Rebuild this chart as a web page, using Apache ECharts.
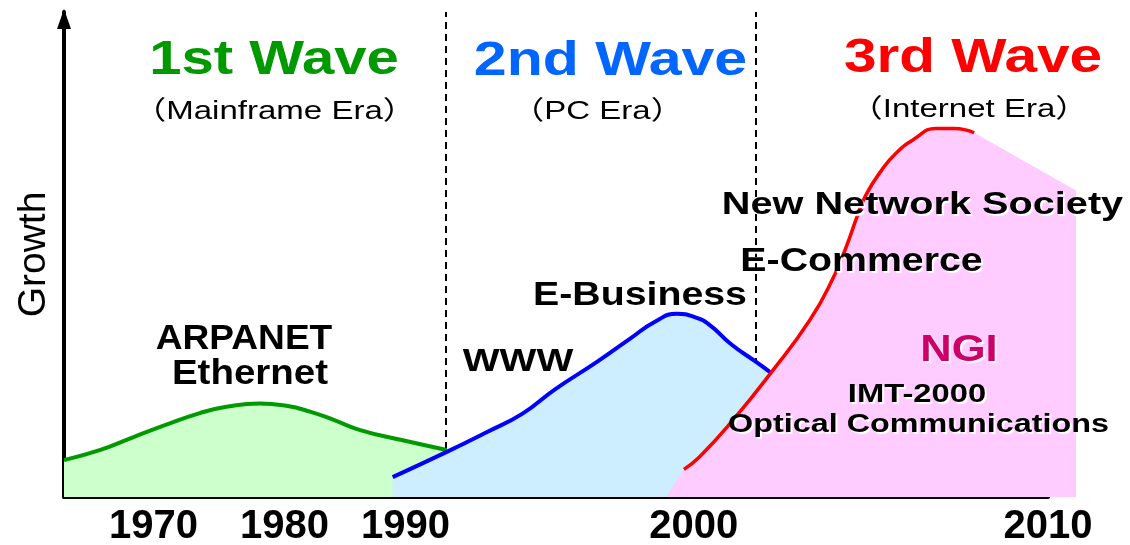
<!DOCTYPE html>
<html>
<head>
<meta charset="utf-8">
<title>Three Waves of Networking</title>
<script src="https://cdn.jsdelivr.net/npm/echarts@6/dist/echarts.min.js"></script>
<style>
  html, body { margin: 0; padding: 0; background: #fff; }
  #chart { width: 1130px; height: 545px; }
</style>
</head>
<body>
<div id="chart"></div>
<script>
"use strict";

// schematic axes: x runs 0..100 along the time line, y 0..100 up the growth axis
var xTickPos = [9.1, 22.4, 34.7, 64.0, 100];
var xTickLabels = ['1970', '1980', '1990', '2000', '2010'];
var eraBorders = [38.8, 70.3];

var waveTitles = ['1st Wave', '2nd Wave', '3rd Wave'];
var eraNames = ['（Mainframe Era）', '（PC Era）', '（Internet Era）'];
var milestones = ['ARPANET', 'Ethernet', 'WWW', 'E-Business', 'E-Commerce',
	'New Network Society', 'NGI', 'IMT-2000', 'Optical Communications'];

var wave1X = [0, 3.7, 7.0, 10.4, 13.8, 16.5, 19.9, 22.6, 25.0, 27.4, 30.1, 34.2, 38.9];
var wave1Y = [7.6, 9.7, 12.3, 14.9, 17.3, 18.6, 19.3, 18.8, 17.6, 15.9, 13.8, 11.8, 9.7];

var wave2X = [33.4, 38.9, 42.9, 46.6, 49.9, 54.2, 57.5, 60.1, 62.3, 64.1, 65.6, 67.8, 70.3, 72.0];
var wave2Y = [4.1, 9.3, 13.3, 17.2, 22.2, 27.9, 32.6, 36.2, 37.8, 37.1, 35.5, 31.5, 27.9, 25.4];

var wave3X = [63.0, 64.6, 68.0, 71.8, 75.8, 78.2, 79.5, 80.6, 81.5, 83.1, 84.6, 86.4, 88.6, 90.5, 92.5];
var wave3Y = [5.7, 8.3, 15.9, 25.5, 36.5, 45.3, 51.6, 57.8, 62.3, 67.4, 71.0, 73.8, 76.0, 76.0, 75.1];
var wave3AreaStart = [61.2, 0];
var wave3AreaEnd = [102.85, 63.2];

var FONT = "'Liberation Sans', Arial, 'Noto Sans CJK JP', sans-serif";

function pairs(xs, ys) {
	return xs.map(function (x, i) { return [x, ys[i]]; });
}

function tickLabel(value) {
	for (var i = 0; i < xTickPos.length; i++) {
		if (Math.abs(xTickPos[i] - value) < 1e-6) {
			return xTickLabels[i];
		}
	}
	return '';
}

function textItem(text, cx, cy, size, weight, color, sx, halo) {
	return {
		type: 'text',
		x: cx,
		y: cy,
		scaleX: sx,
		z: 100,
		silent: true,
		style: {
			text: text,
			x: 0,
			y: 0,
			align: 'center',
			verticalAlign: 'middle',
			textAlign: 'center',
			textVerticalAlign: 'middle',
			fill: color,
			fontSize: size,
			fontWeight: weight,
			fontFamily: FONT,
			textShadowColor: halo ? '#ffffff' : 'rgba(0,0,0,0)',
			textShadowBlur: halo ? 1 : 0,
			textShadowOffsetX: halo ? 2 : 0,
			textShadowOffsetY: halo ? 2 : 0
		}
	};
}

var waveColors = ['#009900', '#0066ff', '#ff0000'];
var graphics = [
	textItem(waveTitles[0], 274, 60.4, 48, 'bold', waveColors[0], 1.21, false),
	textItem(waveTitles[1], 610.5, 61.4, 48, 'bold', waveColors[1], 1.23, false),
	textItem(waveTitles[2], 973, 58.4, 48, 'bold', waveColors[2], 1.22, false),

	textItem(eraNames[0], 274.5, 112.3, 26, 'normal', '#000', 1.27, false),
	textItem(eraNames[1], 597.5, 112.3, 26, 'normal', '#000', 1.27, false),
	textItem(eraNames[2], 969, 109.8, 26, 'normal', '#000', 1.27, false),

	textItem(milestones[0], 244, 339.3, 35, 'bold', '#000', 1.06, false),
	textItem(milestones[1], 250, 374.3, 35, 'bold', '#000', 1.10, false),
	textItem(milestones[2], 518, 362, 32, 'bold', '#000', 1.22, false),
	textItem(milestones[3], 640, 296.3, 33, 'bold', '#000', 1.19, true),
	textItem(milestones[4], 861.5, 261.7, 33, 'bold', '#000', 1.19, true),
	textItem(milestones[5], 922.5, 205, 32, 'bold', '#000', 1.24, true),
	textItem(milestones[6], 959, 350.4, 37.5, 'bold', '#cc0066', 1.16, true),
	textItem(milestones[7], 917, 395.3, 26, 'bold', '#000', 1.26, true),
	textItem(milestones[8], 918.5, 424.3, 26.5, 'bold', '#000', 1.22, true)
];

var chart = echarts.init(document.getElementById('chart'), null, { renderer: 'canvas' });

chart.setOption({
	animation: false,
	backgroundColor: '#fff',
	grid: [
		// main plot; the axis line stops at 2010
		{ left: 64, right: 82, top: 12, bottom: 48, containLabel: false, outerBoundsMode: 'none' },
		// same scale, a little wider: the internet-era fill runs past the axis end
		{ left: 64, right: 54, top: 12, bottom: 48, containLabel: false, outerBoundsMode: 'none' }
	],
	xAxis: [
		{
			type: 'value',
			gridIndex: 0,
			min: 0,
			max: 100,
			axisLine: { show: true, lineStyle: { color: '#000', width: 4 } },
			axisTick: { show: false },
			splitLine: { show: false },
			axisLabel: {
				customValues: xTickPos,
				formatter: tickLabel,
				showMinLabel: true,
				showMaxLabel: true,
				margin: 10,
				color: '#000',
				fontSize: 40,
				fontWeight: 'bold',
				fontFamily: FONT
			}
		},
		{ type: 'value', gridIndex: 1, min: 0, max: 102.85, show: false }
	],
	yAxis: [
		{
			type: 'value',
			gridIndex: 0,
			min: 0,
			max: 100,
			name: 'Growth',
			nameLocation: 'middle',
			nameRotate: 90,
			nameGap: 10,
			nameTextStyle: { color: '#000', fontSize: 39, fontFamily: FONT },
			axisLine: {
				show: true,
				symbol: ['none', 'triangle'],
				symbolSize: [14, 20],
				symbolOffset: [0, -7],
				lineStyle: { color: '#000', width: 4 }
			},
			axisTick: { show: false },
			axisLabel: { show: false },
			splitLine: { show: false }
		},
		{ type: 'value', gridIndex: 1, min: 0, max: 100, show: false }
	],
	series: [
		{
			name: 'Mainframe',
			type: 'line',
			z: 2,
			smooth: 0.5,
			symbol: 'none',
			data: pairs(wave1X, wave1Y),
			lineStyle: { color: '#009900', width: 4 },
			areaStyle: { color: '#ccffcc', opacity: 1 },
			markLine: {
				z: 1,
				silent: true,
				symbol: 'none',
				label: { show: false },
				lineStyle: { color: '#000', width: 2, type: [7, 5] },
				data: eraBorders.map(function (v) { return { xAxis: v }; })
			}
		},
		{
			name: 'PC',
			type: 'line',
			z: 3,
			smooth: 0.5,
			symbol: 'none',
			data: pairs(wave2X, wave2Y),
			lineStyle: { color: '#0000ff', width: 4 },
			areaStyle: { color: '#cceeff', opacity: 1 }
		},
		{
			name: 'Internet area',
			type: 'line',
			xAxisIndex: 1,
			yAxisIndex: 1,
			z: 4,
			smooth: false,
			symbol: 'none',
			data: [wave3AreaStart].concat(pairs(wave3X, wave3Y), [wave3AreaEnd]),
			lineStyle: { width: 0, opacity: 0 },
			areaStyle: { color: '#ffccff', opacity: 1 }
		},
		{
			name: 'Internet',
			type: 'line',
			z: 5,
			smooth: 0.5,
			symbol: 'none',
			data: pairs(wave3X, wave3Y),
			lineStyle: { color: '#ff0000', width: 3.5 }
		}
	],
	graphic: graphics
});
</script>
</body>
</html>
